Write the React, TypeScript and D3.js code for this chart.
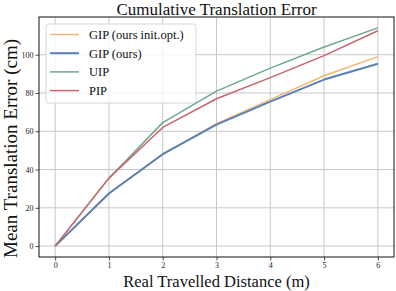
import React, { useEffect, useRef } from 'react';
import * as d3 from 'd3';

const distances = [0, 1, 2, 3, 4, 5, 6];
const gipInitOpt = [0, 27.5, 48, 64, 76.5, 89, 99];
const gipOurs = [0, 27.5, 48, 63.5, 75.5, 87, 95.3];
const uip = [0, 35.5, 64.5, 81, 93, 104, 114];
const pip = [0, 35.5, 62, 77, 88, 99.5, 112.5];

const seriesNames = ['GIP (ours init.opt.)', 'GIP (ours)', 'UIP', 'PIP'];
const seriesValues = [gipInitOpt, gipOurs, uip, pip];
const seriesColors = ['#f3b571', '#5a80b8', '#6fa78c', '#c9646b'];
const seriesWidths = [1.5, 2, 1.5, 1.5];

const yTicks = [0, 20, 40, 60, 80, 100];

const W = 396;
const H = 291;
const margin = { top: 17, right: 2, bottom: 34, left: 39 };
const serif = '"Liberation Serif", "DejaVu Serif", serif';

const App: React.FC = () => {
  const ref = useRef<SVGSVGElement>(null);

  useEffect(() => {
    if (!ref.current) return;
    const svg = d3.select(ref.current);
    svg.selectAll('*').remove();

    const x = d3.scaleLinear().domain([-0.3, 6.3]).range([margin.left, W - margin.right]);
    const y = d3.scaleLinear().domain([-5.7, 119.7]).range([H - margin.bottom, margin.top]);

    const g = svg.append('g');

    // grid
    g.selectAll('.vgrid')
      .data(distances)
      .enter()
      .append('line')
      .attr('x1', (d) => x(d))
      .attr('x2', (d) => x(d))
      .attr('y1', y.range()[0])
      .attr('y2', y.range()[1])
      .attr('stroke', '#c8c8c8')
      .attr('stroke-width', 1);
    g.selectAll('.hgrid')
      .data(yTicks)
      .enter()
      .append('line')
      .attr('x1', x.range()[0])
      .attr('x2', x.range()[1])
      .attr('y1', (d) => y(d))
      .attr('y2', (d) => y(d))
      .attr('stroke', '#c8c8c8')
      .attr('stroke-width', 1);

    // lines
    const line = d3
      .line<number>()
      .x((_, i) => x(distances[i]))
      .y((d) => y(d));

    seriesValues.forEach((vals, i) => {
      g.append('path')
        .datum(vals)
        .attr('d', line)
        .attr('fill', 'none')
        .attr('stroke', seriesColors[i])
        .attr('stroke-width', seriesWidths[i])
        .attr('stroke-linejoin', 'round');
    });

    // axes
    const xAxis = d3.axisBottom(x).tickValues(distances).tickSize(3.5).tickPadding(2).tickFormat(d3.format('d'));
    const yAxis = d3.axisLeft(y).tickValues(yTicks).tickSize(3.5).tickPadding(2).tickFormat(d3.format('d'));

    const xg = svg.append('g').attr('transform', `translate(0,${H - margin.bottom})`).call(xAxis);
    const yg = svg.append('g').attr('transform', `translate(${margin.left},0)`).call(yAxis);
    [xg, yg].forEach((a) => {
      a.select('.domain').remove();
      a.selectAll('text').attr('font-family', serif).attr('font-size', 8).attr('fill', '#222');
      a.selectAll('line').attr('stroke', '#222').attr('stroke-width', 0.8);
    });

    // frame
    svg
      .append('rect')
      .attr('x', margin.left)
      .attr('y', margin.top)
      .attr('width', W - margin.left - margin.right)
      .attr('height', H - margin.top - margin.bottom)
      .attr('fill', 'none')
      .attr('stroke', '#111')
      .attr('stroke-width', 1);

    // legend
    const leg = svg.append('g').attr('transform', 'translate(46,24)');
    leg
      .append('rect')
      .attr('width', 150)
      .attr('height', 79)
      .attr('rx', 2.5)
      .attr('fill', 'rgba(255,255,255,0.8)')
      .attr('stroke', '#d6d6d6')
      .attr('stroke-width', 1);
    seriesNames.forEach((name, i) => {
      const ly = 10.5 + i * 18.7;
      leg
        .append('line')
        .attr('x1', 4)
        .attr('x2', 33)
        .attr('y1', ly)
        .attr('y2', ly)
        .attr('stroke', seriesColors[i])
        .attr('stroke-width', seriesWidths[i]);
      leg
        .append('text')
        .attr('x', 43)
        .attr('y', ly + 4.3)
        .attr('font-family', serif)
        .attr('font-size', 12.5)
        .attr('fill', '#111')
        .text(name);
    });

    // titles
    const cx = (margin.left + W - margin.right) / 2;
    svg
      .append('text')
      .attr('x', cx)
      .attr('y', 15)
      .attr('text-anchor', 'middle')
      .attr('font-family', serif)
      .attr('font-size', 17)
      .attr('fill', '#111')
      .text('Cumulative Translation Error');
    svg
      .append('text')
      .attr('x', cx)
      .attr('y', 287)
      .attr('text-anchor', 'middle')
      .attr('font-family', serif)
      .attr('font-size', 16.5)
      .attr('fill', '#111')
      .text('Real Travelled Distance (m)');
    svg
      .append('text')
      .attr('transform', `translate(17,148.5) rotate(-90)`)
      .attr('text-anchor', 'middle')
      .attr('font-family', serif)
      .attr('font-size', 19)
      .attr('fill', '#111')
      .text('Mean Translation Error (cm)');
  }, []);

  return (
    <div style={{ position: 'absolute', left: 0, top: 0 }}>
      <svg ref={ref} width={W} height={H} style={{ display: 'block', background: '#fff' }}></svg>
    </div>
  );
};

export default App;
